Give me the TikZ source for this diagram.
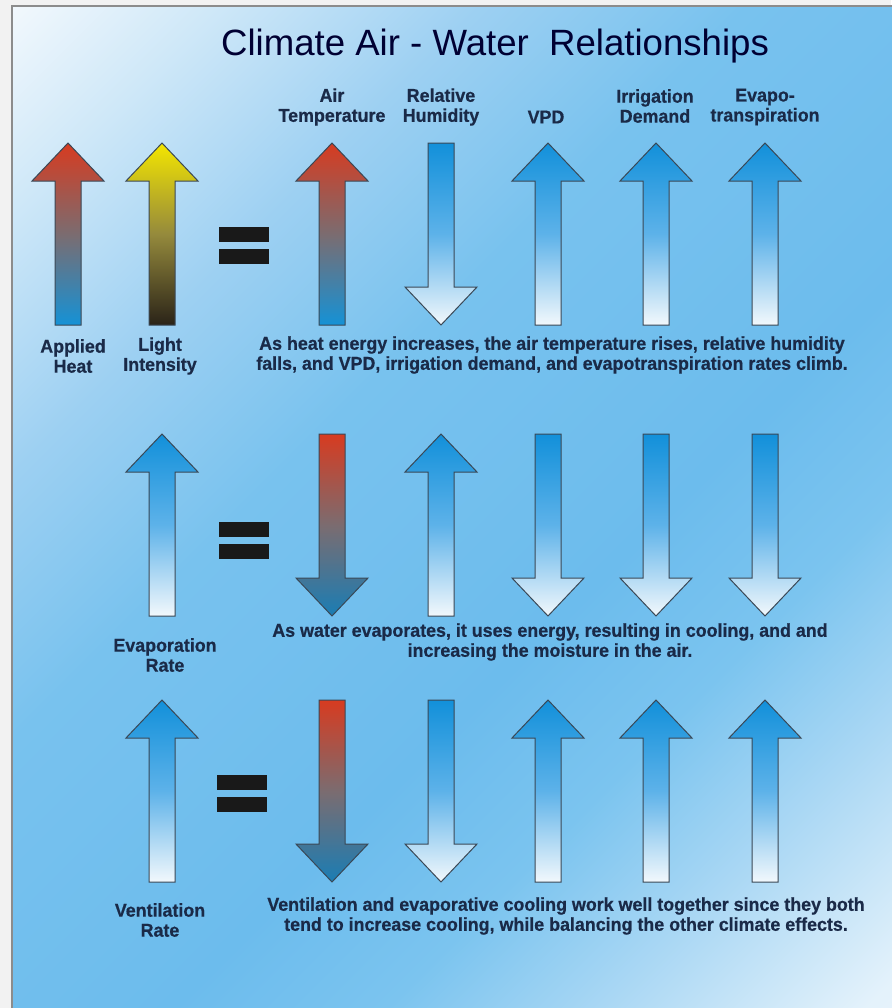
\documentclass[tikz,border=0pt]{standalone}
\usepackage{fontspec}
\setmainfont{Liberation Sans}
\newfontfamily\lblfont[FakeStretch=0.96,FakeBold=0.6,UprightFont={* Bold}]{Liberation Sans}
\usepackage{tikz}

\definecolor{heatred}{HTML}{D73B20}
\definecolor{midgray}{HTML}{7B6C70}
\definecolor{coolblue}{HTML}{1592D6}
\definecolor{deepblue}{HTML}{1A7DB4}
\definecolor{sunyellow}{HTML}{F4E600}
\definecolor{oliveish}{HTML}{958A3C}
\definecolor{darkbrown}{HTML}{2A2318}
\definecolor{skyblue}{HTML}{1290DA}
\definecolor{paleblue}{HTML}{5DB2E9}
\definecolor{snow}{HTML}{F2F8FC}
\definecolor{inkblue}{HTML}{1A2A48}
\definecolor{edgegray}{HTML}{3A4856}
\definecolor{bgA}{HTML}{F4F9FD}
\definecolor{bgB}{HTML}{CFE8F8}
\definecolor{bgC}{HTML}{9DD0F2}
\definecolor{bgD}{HTML}{78C2EE}
\definecolor{bgE}{HTML}{6CBCED}
\definecolor{bgF}{HTML}{7BC4EF}
\definecolor{bgG}{HTML}{A9D7F4}
\definecolor{bgH}{HTML}{E4F2FB}

\pgfdeclarehorizontalshading{sky}{100bp}{color(0bp)=(bgA); color(14bp)=(bgA);
  color(22bp)=(bgB); color(32bp)=(bgC); color(42bp)=(bgD); color(58bp)=(bgE);
  color(66bp)=(bgF); color(74bp)=(bgG); color(84bp)=(bgH); color(100bp)=(bgA)}

% arrows: x, top, bottom, shading style
\newcommand{\arrUp}[4]{%
  \shadedraw[arrline,#4] (#1,#2) -- ({#1+36},{#2+38}) -- ({#1+13},{#2+38}) -- ({#1+13},#3)
    -- ({#1-13},#3) -- ({#1-13},{#2+38}) -- ({#1-36},{#2+38}) -- cycle;}
\newcommand{\arrDown}[4]{%
  \shadedraw[arrline,#4] ({#1-13},#2) -- ({#1+13},#2) -- ({#1+13},{#3-38}) -- ({#1+36},{#3-38})
    -- (#1,#3) -- ({#1-36},{#3-38}) -- ({#1-13},{#3-38}) -- cycle;}

\begin{document}
\begin{tikzpicture}[x=0.5pt, y=-0.5pt,
  arrline/.style={draw=edgegray, line width=0.5pt},
  bluefade/.style={top color=skyblue, bottom color=snow, middle color=paleblue},
  heatfade/.style={top color=heatred, bottom color=coolblue, middle color=midgray},
  cooldown/.style={top color=heatred, bottom color=deepblue, middle color=midgray},
  lightfade/.style={top color=sunyellow, bottom color=darkbrown, middle color=oliveish},
  lbl/.style={font=\lblfont\fontsize{9.3}{10}\selectfont, text=inkblue, align=center, inner sep=0pt}]

	\useasboundingbox (0,0) rectangle (891,1008);
	\fill[black!5] (0,0) rectangle (891,1008);
	\shade[shading=sky, shading angle=-45] (12,6) rectangle (900,1016);
	\draw[black!45, line width=1pt] (900,6) -- (12,6) -- (12,1016);

	\node[font=\fontsize{18.3}{20}\selectfont, text=black!80!blue, inner sep=0pt] (title) at (495,46) {Climate Air - Water\ \ Relationships};

	% column heads
	\node[lbl] (airtemp) at (332,107) {Air\\Temperature};
	\node[lbl] (relhum) at (441,107) {Relative\\Humidity};
	\node[lbl] (vpd) at (546,117) {VPD};
	\node[lbl] (irrig) at (655,106) {Irrigation\\Demand};
	\node[lbl] (evapo) at (765,107) {Evapo-\\transpiration};

	% row 1
	\arrUp{68}{143}{325}{heatfade}
	\arrUp{162}{143}{325}{lightfade}
	\arrUp{332}{143}{325}{heatfade}
	\arrDown{441}{143}{325}{bluefade}
	\foreach \x in {548,656,765}
		\arrUp{\x}{143}{325}{bluefade};

	% row 2
	\arrUp{162}{434}{616}{bluefade}
	\arrDown{332}{434}{616}{cooldown}
	\arrUp{441}{434}{616}{bluefade}
	\foreach \x in {548,656,765}
		\arrDown{\x}{434}{616}{bluefade};

	% row 3
	\arrUp{162}{700}{882}{bluefade}
	\arrDown{332}{700}{882}{cooldown}
	\arrDown{441}{700}{882}{bluefade}
	\foreach \x in {548,656,765}
		\arrUp{\x}{700}{882}{bluefade};

	% equals signs
	\foreach \x/\y in {219/227, 219/522, 217/775} {
		\fill[black!90] (\x,\y) rectangle ++(50,15);
		\fill[black!90] (\x,{\y+22}) rectangle ++(50,15);
	}

	\node[lbl] (heat) at (73,356) {Applied\\Heat};
	\node[lbl] (light) at (160,356) {Light\\Intensity};
	\node[lbl] (desca) at (552,355) {As heat energy increases, the air temperature rises, relative humidity\\falls, and VPD, irrigation demand, and evapotranspiration rates climb.};

	\node[lbl] (evaprate) at (165,655) {Evaporation\\Rate};
	\node[lbl] (descb) at (550,642) {As water evaporates, it uses energy, resulting in cooling, and and\\increasing the moisture in the air.};

	\node[lbl] (ventrate) at (160,920) {Ventilation\\Rate};
	\node[lbl] (descc) at (566,916) {Ventilation and evaporative cooling work well together since they both\\tend to increase cooling, while balancing the other climate effects.};

\end{tikzpicture}
\end{document}
